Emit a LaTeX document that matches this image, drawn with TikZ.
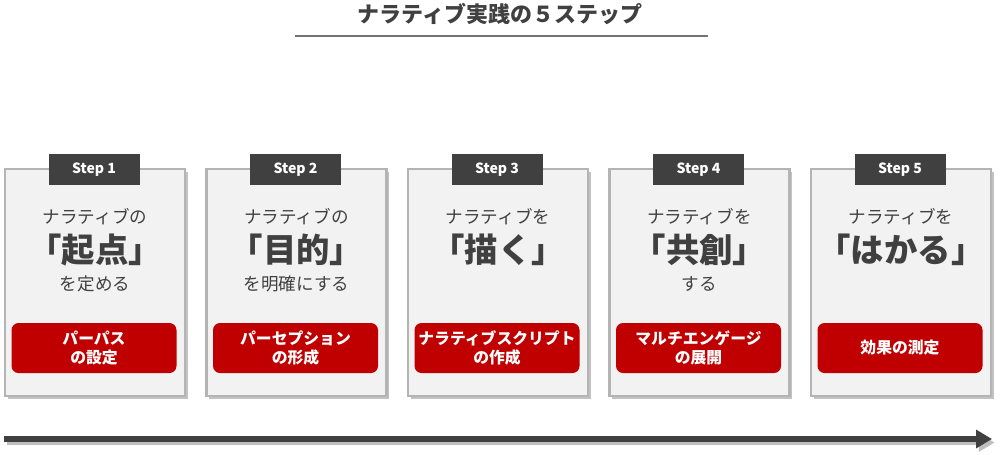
\documentclass[tikz,border=0pt]{standalone}
\usepackage{fontspec}
\setmainfont{Noto Sans CJK JP}
\usepackage{tikz}
\usetikzlibrary{shadows,arrows.meta}
\definecolor{textgray}{HTML}{404040}
\definecolor{cardfill}{HTML}{F2F2F2}
\definecolor{cardline}{HTML}{B4B4B4}
\definecolor{tagfill}{HTML}{404040}
\definecolor{themered}{HTML}{C00000}

\begin{document}
\begin{tikzpicture}[x=0.02cm,y=-0.02cm,
    card/.style={draw=cardline,fill=cardfill,line width=1.4pt,minimum width=180*0.02cm,
      minimum height=227*0.02cm,inner sep=0pt,
      drop shadow={shadow xshift=1.5pt,shadow yshift=-1.5pt,fill=black!40,opacity=0.6}},
    steptag/.style={fill=tagfill,text=white,font=\bfseries\fontsize{8}{9}\selectfont,
      minimum width=91*0.02cm,minimum height=31*0.02cm,inner sep=0pt},
    lead/.style={text=textgray,font=\fontsize{10}{12}\selectfont,inner sep=0pt},
    keyword/.style={text=textgray,font=\bfseries\fontsize{19}{22}\selectfont,inner sep=0pt},
    redbox/.style={fill=themered,text=white,rounded corners=4pt,align=center,
      font=\bfseries\fontsize{9}{10.5}\selectfont,minimum width=165*0.02cm,
      minimum height=50*0.02cm,inner sep=0pt}]
  \useasboundingbox (0,0) rectangle (1000,454);
  % title
  \node[text=textgray,font=\bfseries\fontsize{12.5}{14}\selectfont] (title) at (500,14)
    {ナラティブ実践の５ステップ};
  \coordinate (ruleL) at (295,36);
  \coordinate (ruleR) at (708,36);
  \draw[black!55,line width=0.8pt] (ruleL) -- (ruleR);
  % step 1
  \node[card] (card1) at (95,282.5) {};
  \node[steptag] (tag1) at (94,169.5) {Step 1};
  \node[lead] (lead1) at (95,217) {ナラティブの};
  \node[keyword] (key1) at (95,250) {「起点」};
  \node[lead] (tail1) at (95,284) {を定める};
  \node[redbox] (box1) at (94,348) {パーパス\\の設定};
  % step 2
  \node[card] (card2) at (296.5,282.5) {};
  \node[steptag] (tag2) at (295.5,169.5) {Step 2};
  \node[lead] (lead2) at (296.5,217) {ナラティブの};
  \node[keyword] (key2) at (296.5,250) {「目的」};
  \node[lead] (tail2) at (296.5,284) {を明確にする};
  \node[redbox] (box2) at (295.5,348) {パーセプション\\の形成};
  % step 3
  \node[card] (card3) at (498,282.5) {};
  \node[steptag] (tag3) at (497,169.5) {Step 3};
  \node[lead] (lead3) at (498,217) {ナラティブを};
  \node[keyword] (key3) at (498,250) {「描く」};
  \node[redbox] (box3) at (497,348) {ナラティブスクリプト\\の作成};
  % step 4
  \node[card] (card4) at (699.5,282.5) {};
  \node[steptag] (tag4) at (698.5,169.5) {Step 4};
  \node[lead] (lead4) at (699.5,217) {ナラティブを};
  \node[keyword] (key4) at (699.5,250) {「共創」};
  \node[lead] (tail4) at (699.5,284) {する};
  \node[redbox] (box4) at (698.5,348) {マルチエンゲージ\\の展開};
  % step 5
  \node[card] (card5) at (901,282.5) {};
  \node[steptag] (tag5) at (900,169.5) {Step 5};
  \node[lead] (lead5) at (901,217) {ナラティブを};
  \node[keyword] (key5) at (901,250) {「はかる」};
  \node[redbox] (box5) at (900,348) {効果の測定};
  % time arrow
  \coordinate (arrowL) at (4,439);
  \coordinate (arrowR) at (992,439);
  \draw[black!25,line width=3pt,-{Triangle[length=9pt,width=10pt]},
    transform canvas={xshift=1.5pt,yshift=-2pt}] (arrowL) -- (arrowR);
  \draw[textgray,line width=3pt,-{Triangle[length=9pt,width=10pt]}] (arrowL) -- (arrowR);
\end{tikzpicture}
\end{document}
